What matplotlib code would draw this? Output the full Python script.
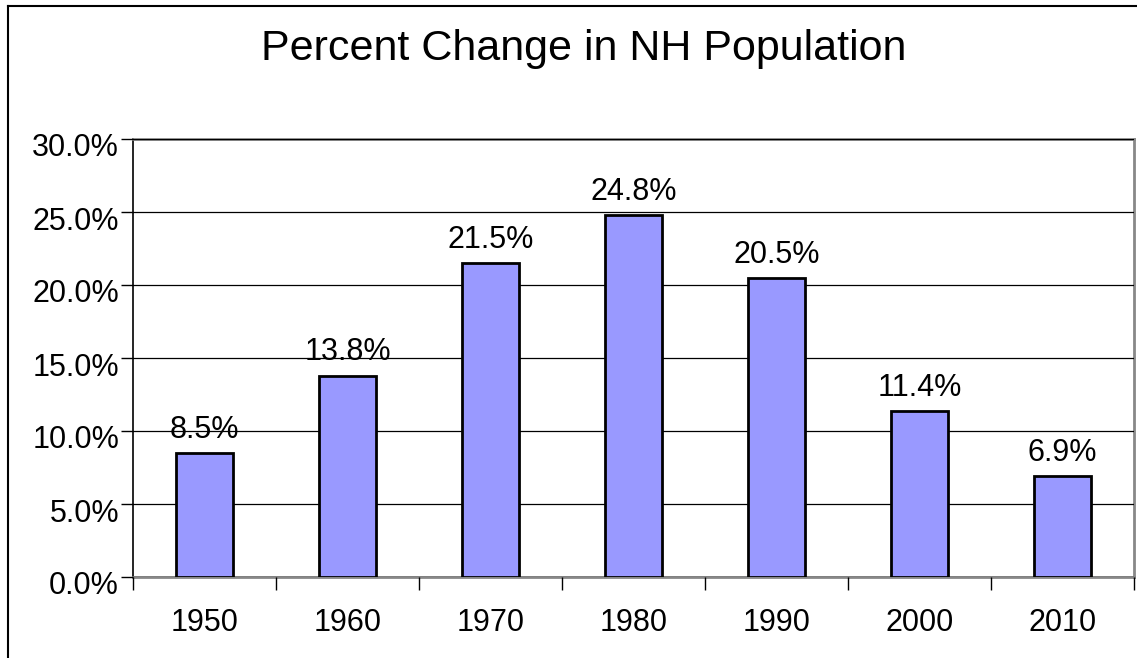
import matplotlib
matplotlib.use('Agg')
import matplotlib.pyplot as plt
from matplotlib.lines import Line2D
from matplotlib.transforms import ScaledTranslation
import numpy as np

years = ['1950', '1960', '1970', '1980', '1990', '2000', '2010']
pct_change = [8.5, 13.8, 21.5, 24.8, 20.5, 11.4, 6.9]
yticks = [0, 5, 10, 15, 20, 25, 30]

plt.rcParams['font.family'] = ['Liberation Sans', 'DejaVu Sans']

W, H = 1137, 658
fig = plt.figure(figsize=(W / 100, H / 100), dpi=100)

# outer chart border (only left and top visible in the reference)
fig.add_artist(Line2D([8 / W, 8 / W], [-0.1, 1 - 6 / H], color='black', lw=1.5,
                      transform=fig.transFigure))
fig.add_artist(Line2D([8 / W, 1.1], [1 - 6 / H, 1 - 6 / H], color='black', lw=1.5,
                      transform=fig.transFigure))

ax = fig.add_axes([133 / W, 1 - 577 / H, (1134 - 133) / W, (577 - 139) / H])

x = np.arange(len(years)) + 0.5
ax.bar(x, pct_change, width=0.4, color='#9999FF', edgecolor='black', linewidth=2, zorder=3)

for xi, v in zip(x, pct_change):
    ax.text(xi, v + 0.55, f'{v:.1f}%', ha='center', va='bottom', fontsize=22, zorder=1)

ax.set_xlim(0, len(years))
ax.set_ylim(0, 30)
ax.set_yticks(yticks)
ax.set_yticklabels([f'{t:.1f}%' for t in yticks], fontsize=22)
ax.yaxis.grid(True, color='black', lw=0.9, zorder=2)
ax.set_axisbelow(False)

ax.set_xticks(np.arange(len(years) + 1))
ax.set_xticklabels([])
ax.set_xticks(x, minor=True)
ax.set_xticklabels(years, minor=True, fontsize=22)
ax.tick_params(axis='x', which='minor', length=0, pad=22)
ax.tick_params(axis='x', which='major', length=9, width=1, color='black', direction='out')
ax.tick_params(axis='y', length=9, width=1, direction='out', pad=1)

shift = ScaledTranslation(0, -6 / 100, fig.dpi_scale_trans)
for lab in ax.get_yticklabels():
    lab.set_transform(lab.get_transform() + shift)

for s in ['top', 'right', 'bottom']:
    ax.spines[s].set_color('#888888')
    ax.spines[s].set_linewidth(2)
ax.spines['left'].set_color('black')
ax.spines['left'].set_linewidth(1.2)

fig.text(584 / W, 1 - 49 / H, 'Percent Change in NH Population', ha='center', va='center',
         fontsize=31)

fig.savefig('out.png', dpi=100)
